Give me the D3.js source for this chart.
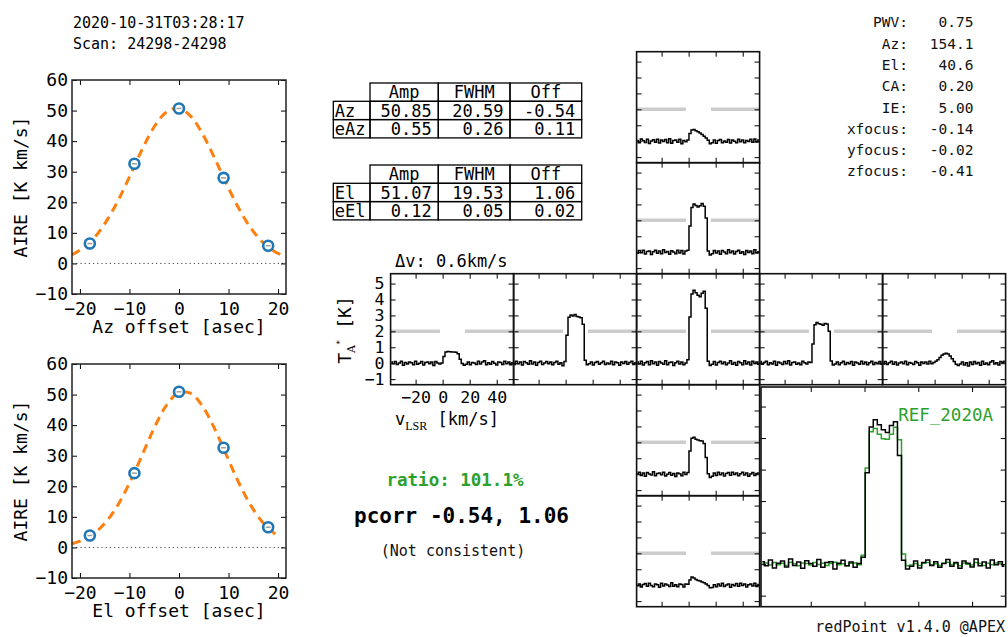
<!DOCTYPE html>
<html>
<head>
<meta charset="utf-8">
<title>redPoint</title>
<script src="https://d3js.org/d3.v7.min.js"></script>
<style>
  body { margin: 0; background: #fff; }
  text { font-family: "DejaVu Sans Mono", monospace; }
</style>
</head>
<body>
<script>
// ---- header / info ----
var scanTime  = "2020-10-31T03:28:17";
var scanLabel = "Scan: 24298-24298";
var infoLabels = ["PWV:", "Az:", "El:", "CA:", "IE:", "xfocus:", "yfocus:", "zfocus:"];
var infoValues = ["0.75", "154.1", "40.6", "0.20", "5.00", "-0.14", "-0.02", "-0.41"];

// ---- AIRE vs offset ----
var azOffsets = [-18, -9, 0, 9, 18];
var azAire    = [6.5, 32.6, 50.7, 28.0, 5.8];
var elOffsets = [-18, -9, 0, 9, 18];
var elAire    = [3.9, 24.3, 50.9, 32.6, 6.6];

// fitted gaussians
var azFitX = [-21.6, -19.2, -16.8, -14.4, -12, -9.6, -7.2, -4.8, -2.4, 0, 2.4, 4.8, 7.2, 9.6, 12, 14.4, 16.8, 19.2, 21.6];
var azFitY = [2.8, 5.2, 9.0, 14.5, 21.5, 29.7, 38.1, 45.2, 49.7, 50.8, 48.1, 42.2, 34.4, 26.0, 18.2, 11.8, 7.1, 4.0, 2.1];
var elFitX = [-21.6, -19.2, -16.8, -14.4, -12, -9.6, -7.2, -4.8, -2.4, 0, 2.4, 4.8, 7.2, 9.6, 12, 14.4, 16.8, 19.2, 20.4];
var elFitY = [1.2, 2.6, 5.0, 9.0, 14.8, 22.4, 31.1, 39.8, 46.8, 50.7, 50.4, 46.1, 38.8, 30.1, 21.4, 14.0, 8.4, 4.7, 3.4];

// ---- fit tables ----
var tableHeader = ["", "Amp", "FWHM", "Off"];
var azTable = [["Az", "50.85", "20.59", "-0.54"], ["eAz", "0.55", "0.26", "0.11"]];
var elTable = [["El", "51.07", "19.53", "1.06"], ["eEl", "0.12", "0.05", "0.02"]];

var deltaV   = "\u0394v: 0.6km/s";
var ratioTxt = "ratio: 101.1%";
var pcorrTxt = "pcorr -0.54, 1.06";
var consTxt  = "(Not consistent)";
var refName  = "REF_2020A";
var credit   = "redPoint v1.4.0 @APEX";

// ---- spectra ----
var velocity = [-38, -36.5, -35, -33.5, -32, -30.5, -29, -27.5, -26, -24.5, -23, -21.5, -20, -18.5, -17, -15.5, -14, -12.5, -11, -9.5, -8, -6.5, -5, -3.5, -2,
  -0.5, 1, 2.5, 4, 5.5, 7, 8.5, 10, 11.5, 13, 14.5,
  16, 17.5, 19, 20.5, 22, 23.5, 25, 26.5, 28, 29.5, 31, 32.5, 34, 35.5, 37, 38.5, 40, 41.5, 43, 44.5, 46, 47.5, 49, 50.5, 52];
var velTicks = [-20, 0, 20, 40];
var tempTicks = [-1, 0, 1, 2, 3, 4, 5];
var windowEdges = [-2, 16.5];
var windowLevel = 2;

var specElP18 = [0.05,-0.10,0.14,0.03,-0.08,0.12,-0.15,0.02,0.09,-0.06,0.13,-0.12,0.07,-0.02,0.10,-0.09,0.16,-0.13,0.04,0.08,-0.07,0.12,-0.16,0.05,-0.04,
  0.08,0.48,0.70,0.74,0.66,0.60,0.52,0.42,0.31,0.20,0.06,
  -0.16,-0.10,0.07,-0.13,0.05,0.11,-0.09,0.02,-0.06,0.10,-0.12,0.07,0.00,-0.09,0.13,-0.04,0.08,-0.10,0.05,-0.02,0.12,-0.07,0.14,-0.05,0.08];
var specElP9 = [-0.07,0.10,-0.04,0.13,-0.12,0.05,0.08,-0.15,0.03,0.12,-0.06,0.07,-0.10,0.15,-0.02,0.05,-0.13,0.09,0.02,-0.09,0.13,-0.05,0.10,-0.12,0.07,
  0.12,1.65,2.80,3.02,2.93,2.84,2.92,3.06,2.88,2.15,0.08,
  -0.18,-0.09,0.11,-0.05,0.07,-0.13,0.10,0.02,-0.10,0.15,-0.04,0.08,-0.12,0.05,0.13,-0.07,0.03,-0.15,0.10,-0.02,0.07,-0.09,0.16,-0.05,0.03];
var specCenter = [0.08,-0.05,0.13,-0.12,0.03,0.10,-0.09,0.16,-0.04,0.07,-0.13,0.11,0.02,-0.07,0.15,-0.10,0.05,0.08,-0.15,0.03,0.12,-0.05,0.07,-0.10,0.02,
  0.22,2.90,4.35,4.58,4.42,4.26,4.18,4.40,4.52,3.45,0.12,
  -0.15,-0.07,0.10,-0.12,0.05,0.13,-0.04,0.08,-0.10,0.02,0.15,-0.07,0.05,-0.13,0.10,0.03,-0.09,0.16,-0.05,0.07,-0.12,0.13,-0.02,0.08,-0.07];
var specElM9 = [0.03,0.12,-0.08,0.07,-0.13,0.10,0.02,-0.05,0.15,-0.10,0.05,0.08,-0.03,0.13,-0.12,0.00,0.10,-0.07,0.05,-0.15,0.08,0.03,-0.10,0.12,-0.02,
  0.10,1.45,2.25,2.32,2.20,2.15,2.10,2.08,1.92,1.05,0.03,
  -0.20,-0.13,0.07,-0.08,0.12,-0.03,0.08,-0.12,0.05,0.10,-0.07,0.13,-0.02,0.07,-0.10,0.03,0.12,-0.05,0.08,-0.13,0.02,0.10,-0.08,0.05,0.07];
var specElM18 = [-0.03,0.08,-0.12,0.05,0.10,-0.07,0.13,-0.02,-0.10,0.07,0.03,-0.13,0.12,-0.05,0.08,0.02,-0.08,0.15,-0.07,0.03,-0.10,0.08,0.05,-0.12,0.07,
  0.06,0.32,0.52,0.46,0.36,0.30,0.26,0.20,0.15,0.08,-0.02,
  -0.16,-0.14,0.03,-0.10,0.07,-0.05,0.12,-0.08,0.02,0.08,-0.13,0.05,-0.03,0.10,-0.07,0.13,-0.02,0.07,-0.12,0.03,0.08,-0.05,0.12,-0.08,0.05];
var specAzM18 = [0.07,-0.03,0.10,-0.08,0.02,0.12,-0.13,0.05,-0.05,0.08,0.03,-0.10,0.13,-0.07,0.00,0.10,-0.12,0.05,0.08,-0.03,0.07,-0.15,0.10,0.02,-0.05,
  0.02,0.42,0.70,0.74,0.72,0.70,0.71,0.68,0.60,0.25,-0.02,
  -0.13,-0.07,0.08,-0.10,0.05,0.02,-0.08,0.12,-0.05,0.07,0.15,-0.10,0.03,-0.07,0.10,0.00,-0.12,0.08,0.05,-0.08,0.13,-0.03,0.07,-0.10,0.03];
var specAzM9 = [-0.08,0.13,-0.03,0.07,-0.12,0.10,0.03,-0.07,0.15,-0.05,0.08,-0.13,0.05,0.12,-0.08,0.02,0.10,-0.03,0.07,-0.10,0.05,0.13,-0.07,0.03,-0.16,
  0.10,1.75,2.88,3.02,2.96,3.06,2.94,2.90,2.86,2.45,0.18,
  -0.10,-0.03,0.08,-0.12,0.05,0.10,-0.07,0.03,0.13,-0.08,0.02,-0.05,0.12,-0.10,0.07,0.03,-0.13,0.08,-0.02,0.10,-0.07,0.05,0.12,-0.08,0.03];
var specAzP9 = [0.10,-0.07,0.05,0.13,-0.10,0.03,-0.05,0.12,-0.13,0.07,0.02,-0.08,0.10,-0.03,0.15,-0.12,0.05,0.08,-0.07,0.02,-0.10,0.12,0.03,-0.05,0.07,
  0.05,1.20,2.42,2.55,2.48,2.44,2.38,2.50,2.46,2.00,0.14,
  -0.12,-0.05,0.07,-0.10,0.03,0.12,-0.08,0.05,-0.03,0.10,-0.13,0.07,0.02,-0.07,0.13,-0.05,0.08,-0.10,0.03,0.12,-0.08,0.05,-0.03,0.10,-0.07];
var specAzP18 = [-0.05,0.10,-0.08,0.03,0.12,-0.07,0.07,-0.12,0.02,0.08,-0.03,0.13,-0.10,0.05,0.00,-0.08,0.10,0.03,-0.13,0.07,-0.02,0.08,-0.05,0.12,-0.03,
  0.04,0.12,0.22,0.36,0.50,0.58,0.62,0.57,0.45,0.28,0.10,
  -0.07,-0.15,-0.05,0.08,-0.12,0.03,-0.18,0.07,-0.08,0.10,-0.03,0.05,-0.13,0.12,-0.07,0.02,-0.10,0.08,0.15,-0.05,0.03,-0.12,0.10,0.05,0.13];
var specRef = [0.02,0.04,-0.03,0.05,-0.02,0.03,-0.04,0.06,0.01,-0.05,0.04,0.02,-0.03,0.05,-0.01,0.03,-0.04,0.02,0.06,-0.02,0.01,-0.05,0.03,0.04,-0.02,
  0.28,3.05,4.20,4.30,4.12,3.98,3.96,4.12,4.34,3.95,0.32,
  -0.05,-0.03,0.02,-0.04,0.03,0.05,-0.02,0.01,-0.04,0.03,0.06,-0.01,0.02,-0.05,0.04,0.00,-0.03,0.05,0.02,-0.04,0.03,-0.02,0.04,0.01,-0.03];

var blue = "#1f77b4", orange = "#ff7f0e", green = "#2ca02c";
var velDomain = [-38.5, 52.5];
var tempDomain = [-1.35, 5.62];

var svg = d3.select("body").append("svg")
  .attr("width", 1008).attr("height", 637)
  .style("display", "block");
var defs = svg.append("defs");
var clipCount = 0;

function styleAxis(g, size) {
  g.select(".domain").remove();
  g.selectAll("line").attr("stroke", "#000");
  g.selectAll("text").attr("font-family", '"DejaVu Sans Mono", monospace')
    .attr("font-size", size).attr("fill", "#000");
}

// ---- AIRE panels ----
function drawAire(top, offsets, aire, fitX, fitY, xLabel) {
  var left = 72, w = 214, h = 214;
  var x = d3.scaleLinear().domain([-21.6, 21.6]).range([left, left + w]);
  var y = d3.scaleLinear().domain([-10, 60]).range([top + h, top]);
  var g = svg.append("g");

  g.append("line").attr("x1", left).attr("x2", left + w)
    .attr("y1", y(0)).attr("y2", y(0))
    .attr("stroke", "#444").attr("stroke-width", 1).attr("stroke-dasharray", "1.2,3");

  g.append("path").datum(fitX)
    .attr("d", d3.line().x(d => x(d)).y((d, i) => y(fitY[i])).curve(d3.curveCatmullRom))
    .attr("fill", "none").attr("stroke", orange).attr("stroke-width", 3)
    .attr("stroke-dasharray", "9,6");

  var xt = [-20, -10, 0, 10, 20], yt = [-10, 0, 10, 20, 30, 40, 50, 60];
  g.append("g").attr("transform", "translate(0," + (top + h) + ")")
    .call(d3.axisBottom(x).tickValues(xt).tickSize(-5).tickPadding(8)).call(styleAxis, 18);
  g.append("g").attr("transform", "translate(0," + top + ")")
    .call(d3.axisTop(x).tickValues(xt).tickSize(-5).tickFormat("")).call(styleAxis, 18);
  g.append("g").attr("transform", "translate(" + left + ",0)")
    .call(d3.axisLeft(y).tickValues(yt).tickSize(-5).tickPadding(4)).call(styleAxis, 18);
  g.append("g").attr("transform", "translate(" + (left + w) + ",0)")
    .call(d3.axisRight(y).tickValues(yt).tickSize(-5).tickFormat("")).call(styleAxis, 18);

  var pts = g.selectAll(".pt").data(offsets).enter().append("g");
  pts.append("circle").attr("cx", d => x(d)).attr("cy", (d, i) => y(aire[i]))
    .attr("r", 5).attr("fill", "#fff").attr("stroke", blue).attr("stroke-width", 2.6);
  pts.append("line").attr("x1", d => x(d) - 2.5).attr("x2", d => x(d) + 2.5)
    .attr("y1", (d, i) => y(aire[i])).attr("y2", (d, i) => y(aire[i]))
    .attr("stroke", "#9a9a9a").attr("stroke-width", 1.4);

  g.append("rect").attr("x", left).attr("y", top).attr("width", w).attr("height", h)
    .attr("fill", "none").attr("stroke", "#222").attr("stroke-width", 1.5);

  g.append("text").attr("x", left + w / 2).attr("y", top + h + 39)
    .attr("text-anchor", "middle").attr("font-size", 18).text(xLabel);
  g.append("text").attr("transform", "translate(27," + (top + h / 2) + ") rotate(-90)")
    .attr("text-anchor", "middle").attr("font-size", 18).text("AIRE [K km/s]");
}

drawAire(80, azOffsets, azAire, azFitX, azFitY, "Az offset [asec]");
drawAire(364, elOffsets, elAire, elFitX, elFitY, "El offset [asec]");

// ---- header text ----
svg.append("text").attr("x", 73).attr("y", 28).attr("font-size", 15).text(scanTime);
svg.append("text").attr("x", 73).attr("y", 49).attr("font-size", 15).text(scanLabel);

infoLabels.forEach(function (lab, i) {
  svg.append("text").attr("x", 908).attr("y", 27.3 + 21.3 * i).attr("text-anchor", "end")
    .attr("font-size", 14.5).attr("fill", "#111").text(lab);
  svg.append("text").attr("x", 973.5).attr("y", 27.3 + 21.3 * i).attr("text-anchor", "end")
    .attr("font-size", 14.5).attr("fill", "#111").text(infoValues[i]);
});

// ---- tables ----
var colEdges = [333.3, 370, 438.3, 510, 581.7];
var rowH = 18.3;
function drawTable(top, rows) {
  var g = svg.append("g");
  tableHeader.forEach(function (hd, c) {
    if (c === 0) return;
    g.append("rect").attr("x", colEdges[c]).attr("y", top)
      .attr("width", colEdges[c + 1] - colEdges[c]).attr("height", rowH)
      .attr("fill", "none").attr("stroke", "#000").attr("stroke-width", 1.3);
    g.append("text").attr("x", (colEdges[c] + colEdges[c + 1]) / 2).attr("y", top + rowH - 3.5)
      .attr("text-anchor", "middle").attr("font-size", 17).text(hd);
  });
  rows.forEach(function (row, r) {
    var rt = top + rowH * (r + 1);
    row.forEach(function (cell, c) {
      g.append("rect").attr("x", colEdges[c]).attr("y", rt)
        .attr("width", colEdges[c + 1] - colEdges[c]).attr("height", rowH)
        .attr("fill", "none").attr("stroke", "#000").attr("stroke-width", 1.3);
      g.append("text")
        .attr("x", c === 0 ? colEdges[0] + 1.5 : colEdges[c + 1] - 6.5)
        .attr("y", rt + rowH - 3)
        .attr("text-anchor", c === 0 ? "start" : "end")
        .attr("font-size", 17).text(cell);
    });
  });
}
drawTable(83, azTable);
drawTable(165, elTable);

svg.append("text").attr("x", 395).attr("y", 267).attr("font-size", 17).text(deltaV);

// ---- spectra grid ----
var gridLeft = 390.6, colW = 123, gridTop = 51.7, panelH = 111;

function drawSpectrum(x0, y0, w, h, series, opts) {
  var x = d3.scaleLinear().domain(velDomain).range([x0, x0 + w]);
  var y = d3.scaleLinear().domain(tempDomain).range([y0 + h, y0]);
  var id = "clip" + (clipCount++);
  defs.append("clipPath").attr("id", id).append("rect")
    .attr("x", x0).attr("y", y0).attr("width", w).attr("height", h);
  var g = svg.append("g");
  var inner = g.append("g").attr("clip-path", "url(#" + id + ")");

  if (opts.window) {
    [[velDomain[0], windowEdges[0]], [windowEdges[1], velDomain[1]]].forEach(function (seg) {
      inner.append("line").attr("x1", x(seg[0])).attr("x2", x(seg[1]))
        .attr("y1", y(windowLevel)).attr("y2", y(windowLevel))
        .attr("stroke", "#cccccc").attr("stroke-width", 3.5);
    });
  }
  var line = d3.line().x((d, i) => x(velocity[i])).y(d => y(d)).curve(d3.curveStep);
  series.forEach(function (s) {
    inner.append("path").datum(s.values).attr("d", line)
      .attr("fill", "none").attr("stroke", s.color).attr("stroke-width", 1.5)
      .attr("stroke-linejoin", "miter");
  });

  var lab = !!opts.labels;
  g.append("g").attr("transform", "translate(0," + (y0 + h) + ")")
    .call(d3.axisBottom(x).tickValues(velTicks).tickSize(-5).tickPadding(7).tickFormat(lab ? d3.format("d") : ""))
    .call(styleAxis, 16.6);
  g.append("g").attr("transform", "translate(0," + y0 + ")")
    .call(d3.axisTop(x).tickValues(velTicks).tickSize(-5).tickFormat("")).call(styleAxis, 16.6);
  g.append("g").attr("transform", "translate(" + x0 + ",0)")
    .call(d3.axisLeft(y).tickValues(tempTicks).tickSize(-5).tickPadding(6).tickFormat(lab ? d3.format("d") : ""))
    .call(styleAxis, 16.6);
  g.append("g").attr("transform", "translate(" + (x0 + w) + ",0)")
    .call(d3.axisRight(y).tickValues(tempTicks).tickSize(-5).tickFormat("")).call(styleAxis, 16.6);

  g.append("rect").attr("x", x0).attr("y", y0).attr("width", w).attr("height", h)
    .attr("fill", "none").attr("stroke", "#111").attr("stroke-width", 1.6);
}

var panels = [
  { col: 2, row: 0, data: specElP18 },
  { col: 2, row: 1, data: specElP9 },
  { col: 2, row: 3, data: specElM9 },
  { col: 2, row: 4, data: specElM18 },
  { col: 0, row: 2, data: specAzM18, labels: true },
  { col: 1, row: 2, data: specAzM9 },
  { col: 3, row: 2, data: specAzP9 },
  { col: 4, row: 2, data: specAzP18 },
  { col: 2, row: 2, data: specCenter }
];
panels.forEach(function (p) {
  drawSpectrum(gridLeft + colW * p.col, gridTop + panelH * p.row, colW, panelH,
    [{ values: p.data, color: "#000" }], { window: true, labels: p.labels });
});

// enlarged centre with reference
drawSpectrum(761, 387, 244.7, 219.7,
  [{ values: specRef, color: green }, { values: specCenter, color: "#000" }], { window: false });
svg.append("text").attr("x", 993).attr("y", 421).attr("text-anchor", "end")
  .attr("font-size", 17.5).attr("fill", green).text(refName);

// spectra axis labels
var ta = svg.append("text").attr("transform", "translate(351,330) rotate(-90)")
  .attr("text-anchor", "middle").attr("font-size", 18);
ta.append("tspan").text("T");
ta.append("tspan").attr("font-size", 11).attr("dy", 4).attr("font-family", "DejaVu Serif, serif").text("A");
ta.append("tspan").attr("font-size", 9).attr("dy", -12).text("*");
ta.append("tspan").attr("dy", 8).text(" [K]");

var vl = svg.append("text").attr("x", 395).attr("y", 425).attr("font-size", 17);
vl.append("tspan").text("v");
vl.append("tspan").attr("font-size", 12).attr("dy", 5).attr("font-family", "Liberation Serif, serif").text("LSR");
vl.append("tspan").attr("dy", -5).text(" [km/s]");

// ---- summary ----
svg.append("text").attr("x", 455).attr("y", 486).attr("text-anchor", "middle")
  .attr("font-size", 17.5).attr("font-weight", "bold").attr("fill", green).text(ratioTxt);
svg.append("text").attr("x", 461.5).attr("y", 523).attr("text-anchor", "middle")
  .attr("font-size", 21).attr("font-weight", "bold").attr("fill", "#000").text(pcorrTxt);
svg.append("text").attr("x", 453).attr("y", 556).attr("text-anchor", "middle")
  .attr("font-size", 15).attr("fill", "#111").text(consTxt);

svg.append("text").attr("x", 1005).attr("y", 632).attr("text-anchor", "end")
  .attr("font-size", 15).attr("fill", "#111").text(credit);
</script>
</body>
</html>
